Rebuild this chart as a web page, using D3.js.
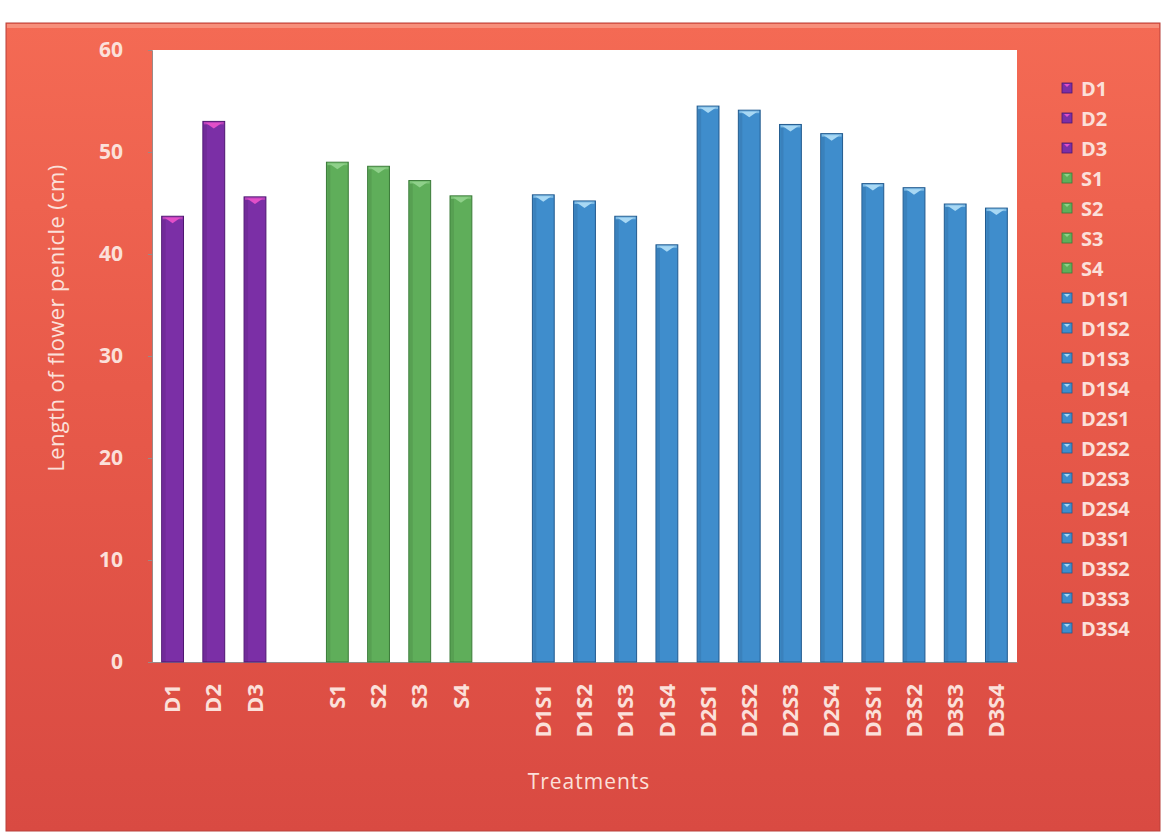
<!DOCTYPE html>
<html>
<head>
<meta charset="utf-8">
<script src="https://cdn.jsdelivr.net/npm/d3@7"></script>
<style>
  html, body { margin: 0; padding: 0; background: #ffffff; }
  svg { display: block; }
</style>
</head>
<body>
<svg id="chart" width="1163" height="835"></svg>
<script>
// Treatment categories (empty strings are spacer slots between groups)
const categories = ["D1", "D2", "D3", "", "S1", "S2", "S3", "S4", "",
  "D1S1", "D1S2", "D1S3", "D1S4", "D2S1", "D2S2", "D2S3", "D2S4",
  "D3S1", "D3S2", "D3S3", "D3S4"];

// Length of flower penicle (cm) per treatment
const drought = [43.7, 53.0, 45.6];
const spacing = [49.0, 48.6, 47.2, 45.7];
const combined = [45.8, 45.2, 43.7, 40.9, 54.5, 54.1, 52.7, 51.8, 46.9, 46.5, 44.9, 44.5];

const droughtNames = ["D1", "D2", "D3"];
const spacingNames = ["S1", "S2", "S3", "S4"];
const combinedNames = ["D1S1", "D1S2", "D1S3", "D1S4", "D2S1", "D2S2", "D2S3", "D2S4",
  "D3S1", "D3S2", "D3S3", "D3S4"];

const yTicks = [0, 10, 20, 30, 40, 50, 60];

const palette = {
  D: { fill: "#7b2fa6", edge: "#4e1670", cap: "#e24fc8" },
  S: { fill: "#5fae5a", edge: "#3a7a38", cap: "#8fd08a" },
  C: { fill: "#3f8dcc", edge: "#225a8e", cap: "#a8d8f4" }
};

const data = [
  ...droughtNames.map((n, i) => ({ name: n, value: drought[i], g: "D" })),
  ...spacingNames.map((n, i) => ({ name: n, value: spacing[i], g: "S" })),
  ...combinedNames.map((n, i) => ({ name: n, value: combined[i], g: "C" }))
];

const svg = d3.select("#chart");
const plot = { left: 152, right: 1017, top: 50, bottom: 662 };
const textColor = "#fbe0da";
const font = "'Open Sans', 'DejaVu Sans', sans-serif";

// Background panel with vertical gradient
const defs = svg.append("defs");
const bg = defs.append("linearGradient").attr("id", "bg").attr("x1", 0).attr("y1", 0).attr("x2", 0).attr("y2", 1);
bg.append("stop").attr("offset", "0%").attr("stop-color", "#f46a54");
bg.append("stop").attr("offset", "45%").attr("stop-color", "#e85a4a");
bg.append("stop").attr("offset", "100%").attr("stop-color", "#d94a42");

svg.append("rect").attr("x", 6).attr("y", 23).attr("width", 1154).attr("height", 808)
  .attr("fill", "url(#bg)").attr("stroke", "#b8403a").attr("stroke-width", 1);
svg.append("rect").attr("x", 7).attr("y", 24).attr("width", 1152).attr("height", 4)
  .attr("fill", "#f8a08c").attr("opacity", 0.7);

// Plot area
svg.append("rect").attr("x", plot.left).attr("y", plot.top)
  .attr("width", plot.right - plot.left).attr("height", plot.bottom - plot.top)
  .attr("fill", "#ffffff");

const x = d3.scaleBand().domain(categories.map((c, i) => c || "_gap" + i))
  .range([plot.left, plot.right]).paddingInner(0.47).paddingOuter(0.235);
const y = d3.scaleLinear().domain([0, 60]).range([plot.bottom, plot.top]);

// Y axis
const yAxis = svg.append("g").attr("transform", `translate(${plot.left},0)`)
  .call(d3.axisLeft(y).tickValues(yTicks).tickSize(4).tickPadding(25));
yAxis.select(".domain").attr("stroke", "#9a8a88");
yAxis.selectAll(".tick line").attr("stroke", "#9a8a88");
yAxis.selectAll("text").attr("fill", textColor).attr("font-family", font)
  .attr("font-size", 21).attr("font-weight", "bold");

// X axis
const xAxis = svg.append("g").attr("transform", `translate(0,${plot.bottom})`)
  .call(d3.axisBottom(x).tickSize(0).tickFormat(d => d.startsWith("_gap") ? "" : d));
xAxis.select(".domain").attr("stroke", "#9a8a88");
xAxis.selectAll("text")
  .attr("fill", textColor).attr("font-family", font).attr("font-size", 22).attr("font-weight", "bold")
  .attr("transform", "rotate(-90)").attr("text-anchor", "end")
  .attr("x", -22).attr("y", 0).attr("dy", "0.35em");

// Bars
const bars = svg.append("g").selectAll("g").data(data).join("g");
bars.append("rect")
  .attr("x", d => x(d.name)).attr("y", d => y(d.value))
  .attr("width", x.bandwidth()).attr("height", d => y(0) - y(d.value))
  .attr("fill", d => palette[d.g].fill).attr("stroke", d => palette[d.g].edge).attr("stroke-width", 1);
// Bevelled top cap
bars.append("rect")
  .attr("x", d => x(d.name) + 1).attr("y", d => y(d.value) + 0.5)
  .attr("width", x.bandwidth() - 2).attr("height", 2.5)
  .attr("fill", d => palette[d.g].cap).attr("opacity", 0.6);
bars.append("path")
  .attr("d", d => {
    const x0 = x(d.name), w = x.bandwidth(), t = y(d.value);
    return `M${x0 + 3},${t + 1.5} L${x0 + w - 3},${t + 1.5} L${x0 + w / 2},${t + 7} Z`;
  })
  .attr("fill", d => palette[d.g].cap);
// Subtle side shading
bars.append("rect")
  .attr("x", d => x(d.name) + 1).attr("y", d => y(d.value) + 3)
  .attr("width", 3).attr("height", d => Math.max(0, y(0) - y(d.value) - 3))
  .attr("fill", "#000").attr("opacity", 0.08);

// Legend
const legend = svg.append("g").selectAll("g").data(data).join("g")
  .attr("transform", (d, i) => `translate(1062,${88 + i * 30})`);
legend.append("rect").attr("x", 0).attr("y", -5).attr("width", 10).attr("height", 10)
  .attr("fill", d => palette[d.g].fill).attr("stroke", d => palette[d.g].edge).attr("stroke-width", 0.8);
legend.append("path").attr("d", "M2,-4 L8,-4 L5,-1 Z").attr("fill", d => palette[d.g].cap);
legend.append("text").attr("x", 19).attr("y", 1).attr("dy", "0.36em")
  .attr("fill", textColor).attr("font-family", font).attr("font-size", 20).attr("font-weight", "bold")
  .text(d => d.name);

// Axis titles
svg.append("text")
  .attr("transform", `translate(56,${(plot.top + plot.bottom) / 2 - 38}) rotate(-90)`)
  .attr("text-anchor", "middle").attr("dy", "0.35em")
  .attr("fill", textColor).attr("font-family", font).attr("font-size", 22).attr("letter-spacing", 0.4)
  .text("Length of flower penicle (cm)");
svg.append("text")
  .attr("x", 589).attr("y", 782).attr("text-anchor", "middle").attr("dy", "0.35em")
  .attr("fill", textColor).attr("font-family", font).attr("font-size", 21).attr("letter-spacing", 1)
  .text("Treatments");
</script>
</body>
</html>
